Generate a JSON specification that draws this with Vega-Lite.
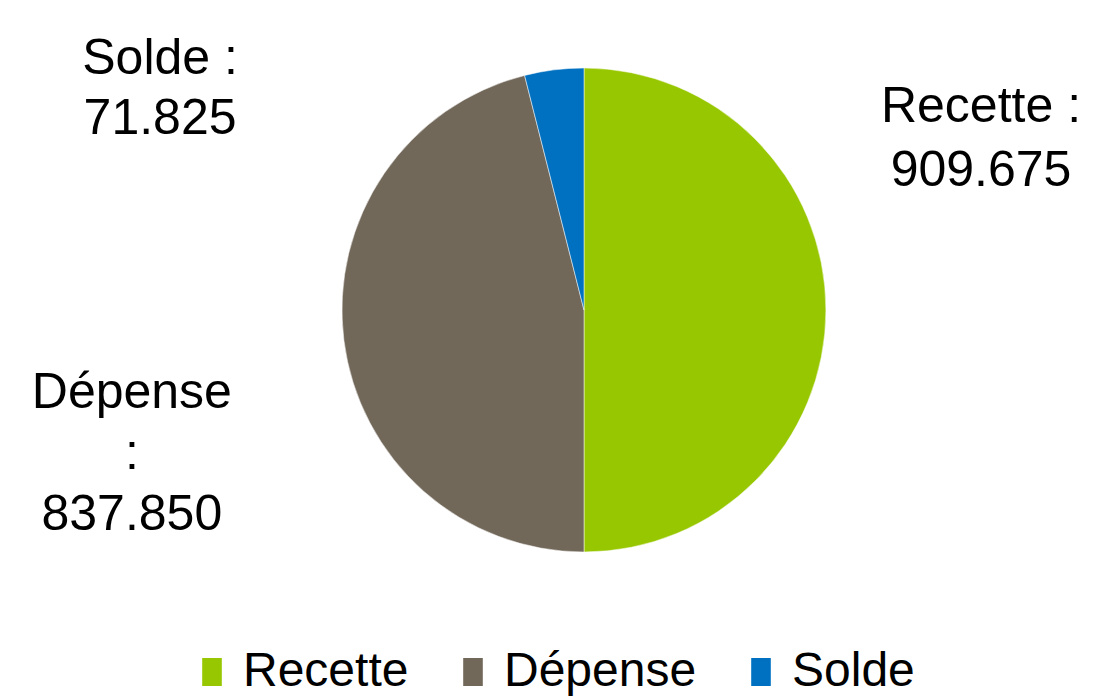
{
  "$schema": "https://vega.github.io/schema/vega-lite/v6.json",
  "width": 1036,
  "height": 620,
  "autosize": {"type": "none"},
  "padding": {"left": 66, "top": 0, "right": 0, "bottom": 79},
  "background": "white",
  "config": {"view": {"stroke": null}, "font": "Liberation Sans"},
  "data": {
    "values": [
      {"category": "Recette", "value": 909.675},
      {"category": "Dépense", "value": 837.85},
      {"category": "Solde", "value": 71.825}
    ]
  },
  "transform": [
    {"calculate": "datum.category === 'Dépense' ? datum.category + '\\n:\\n' + format(datum.value, '.3f') : datum.category + ' :\\n' + format(datum.value, '.3f')", "as": "lbl"}
  ],
  "encoding": {
    "theta": {"field": "value", "type": "quantitative", "stack": true},
    "order": {"field": "value", "type": "quantitative", "sort": "descending"}
  },
  "layer": [
    {
      "mark": {"type": "arc", "outerRadius": 242, "stroke": "white", "strokeWidth": 0.5},
      "encoding": {
        "color": {
          "field": "category",
          "type": "nominal",
          "scale": {"domain": ["Recette", "Dépense", "Solde"], "range": ["#97C700", "#72685A", "#0070C0"]},
          "legend": {
            "title": null,
            "orient": "none",
            "direction": "horizontal",
            "legendX": 122,
            "legendY": 648,
            "symbolType": "M-0.7,-1H0.7V1H-0.7Z",
            "symbolSize": 784,
            "symbolStrokeWidth": 0,
            "labelFontSize": 48,
            "labelFont": "Liberation Sans",
            "labelColor": "black",
            "labelOffset": 7,
            "columnPadding": 40,
            "labelLimit": 400
          }
        }
      }
    },
    {
      "mark": {"type": "text", "radius": 242, "dx": 155, "dy": -203, "fontSize": 50, "lineHeight": 64, "lineBreak": "\n", "align": "center", "baseline": "middle", "color": "black"},
      "encoding": {
        "text": {"condition": {"test": "datum.category === 'Recette'", "field": "lbl"}, "value": ""}
      }
    },
    {
      "mark": {"type": "text", "radius": 242, "dx": -212, "dy": 53, "fontSize": 50, "lineHeight": 61, "lineBreak": "\n", "align": "center", "baseline": "middle", "color": "black"},
      "encoding": {
        "text": {"condition": {"test": "datum.category === 'Dépense'", "field": "lbl"}, "value": ""}
      }
    },
    {
      "mark": {"type": "text", "radius": 242, "dx": -394, "dy": -11, "fontSize": 50, "lineHeight": 60, "lineBreak": "\n", "align": "center", "baseline": "middle", "color": "black"},
      "encoding": {
        "text": {"condition": {"test": "datum.category === 'Solde'", "field": "lbl"}, "value": ""}
      }
    }
  ]
}
